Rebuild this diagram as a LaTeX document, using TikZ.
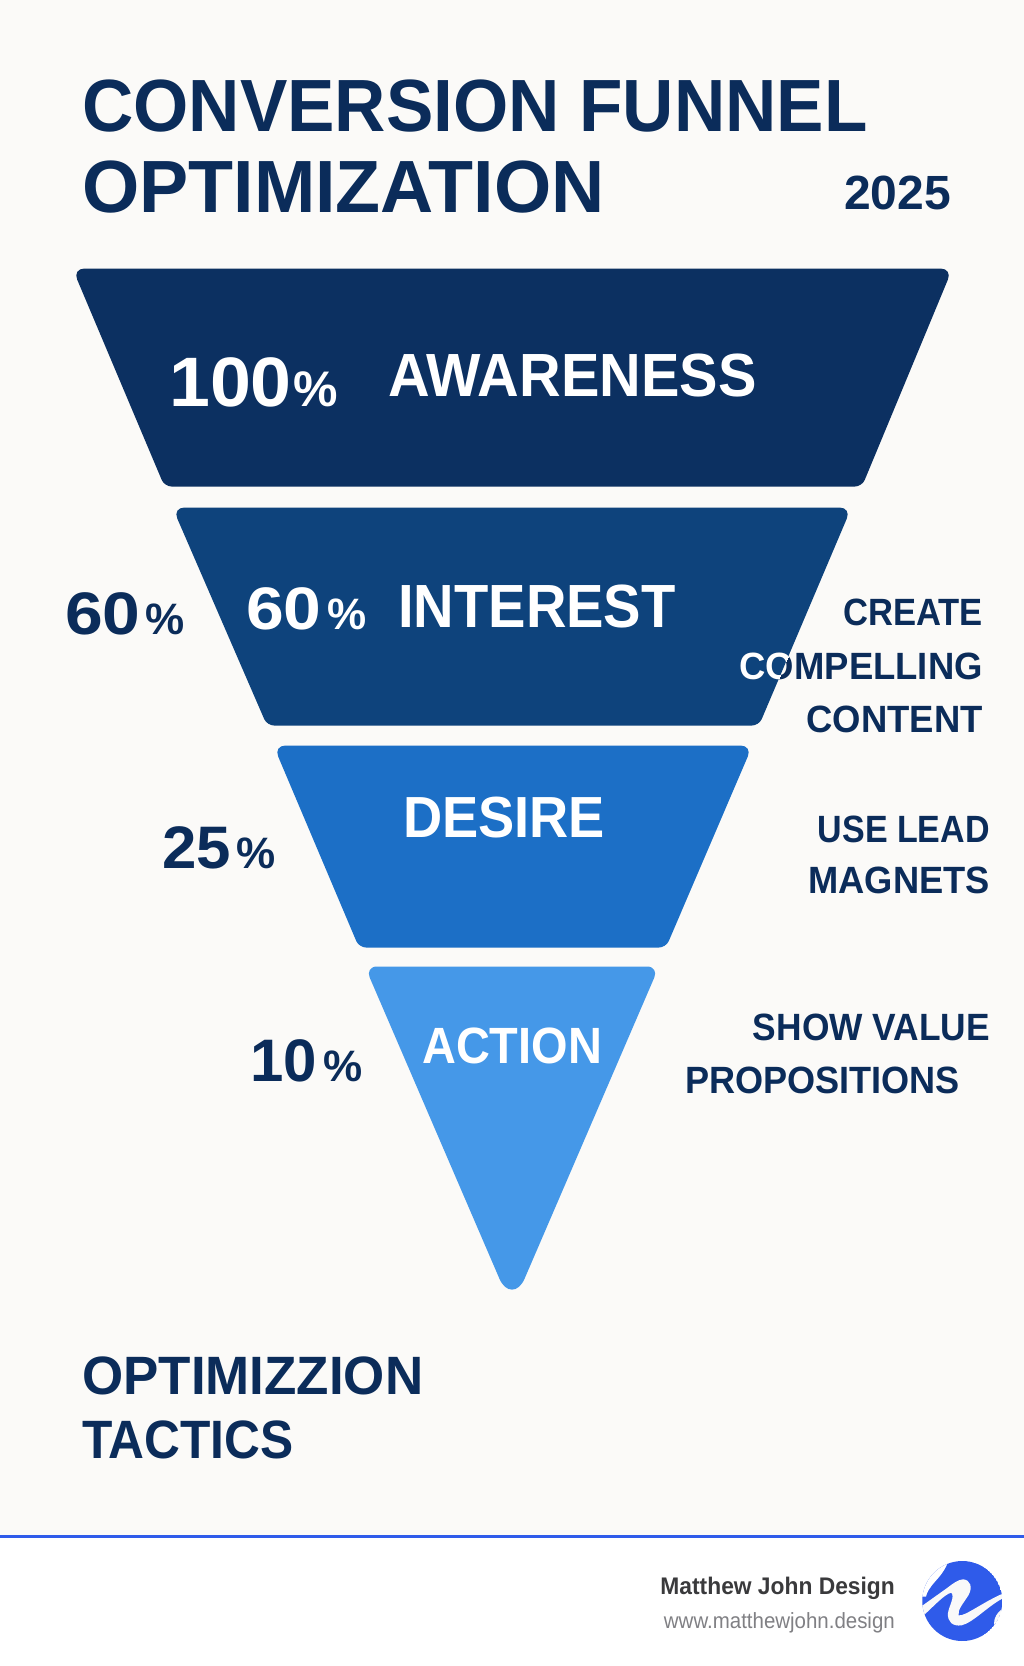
\documentclass[tikz,border=0pt]{standalone}
\usepackage{fontspec}
\setmainfont{Liberation Sans}
\definecolor{navy}{HTML}{0B2C5A}
\definecolor{bgc}{HTML}{FBFAF8}
\definecolor{fa}{HTML}{0C3061}
\definecolor{fi}{HTML}{0E437C}
\definecolor{fd}{HTML}{1C6FC6}
\definecolor{fc}{HTML}{4598E8}
\definecolor{rulec}{HTML}{2F5BEA}
\definecolor{darkgr}{HTML}{3A3A3C}
\definecolor{midgr}{HTML}{808084}
\definecolor{logow}{HTML}{F9F9F9}
\newcommand{\fs}[1]{\fontsize{#1}{#1}\selectfont}
\tikzset{
  x=1pt,y=-1pt,
  txt/.style={inner sep=0pt,font=\bfseries,text=navy},
  wtxt/.style={inner sep=0pt,font=\bfseries,text=white},
}
% top corners wider radius, bottom corners tighter
\newcommand{\pathA}{(512,268.5) [rounded corners=12pt] -- (952.5,268.5) [rounded corners=7pt] -- (862,486.5) -- (164.5,486.5) [rounded corners=12pt] -- (72.5,268.5) -- cycle}
\newcommand{\pathI}{(512,507.5) [rounded corners=12pt] -- (851.5,507.5) [rounded corners=7pt] -- (759,725.5) -- (267,725.5) [rounded corners=12pt] -- (172.5,507.5) -- cycle}
\begin{document}
\begin{tikzpicture}
\useasboundingbox (0,0) rectangle (1024,1666);
\fill[bgc] (0,0) rectangle (1024,1536);
\fill[white] (0,1536) rectangle (1024,1666);
\fill[rulec] (0,1535) rectangle (1024,1538);
% funnel
\fill[fa] \pathA;
\fill[fi] \pathI;
\fill[fd] (512,745.5) [rounded corners=12pt] -- (752.5,745.5) [rounded corners=7pt] -- (666,947.5) -- (359,947.5) [rounded corners=12pt] -- (273.5,745.5) -- cycle;
\fill[fc] (377,966.5) -- (647,966.5) .. controls (654,966.5) and (656.7,972) .. (654.3,977.5)
  -- (524.6,1278.6) .. controls (518.3,1293.3) and (505.7,1293.3) .. (499.4,1278.6)
  -- (369.7,977.5) .. controls (367.3,972) and (370,966.5) .. (377,966.5) -- cycle;
% title
\node[txt,anchor=base west,xscale=.96] (t1) at (82,131) {\fs{74}CONVERSION FUNNEL};
\node[txt,anchor=base west,xscale=.995] (t2) at (82,212) {\fs{74}OPTIMIZATION};
\node[txt,anchor=base east] (yr) at (951,209) {\fs{48}2025};
% band labels
\node[wtxt,anchor=base west,xscale=1.05] (p1) at (169,406) {\fs{70}100};
\node[wtxt,anchor=base west] (p1b) at (293,406) {\fs{50}\%};
\node[wtxt,anchor=base west,xscale=.945] (aw) at (388,396) {\fs{61}AWARENESS};
\node[wtxt,anchor=base west,xscale=1.13] (p2) at (246,629) {\fs{60}60};
\node[wtxt,anchor=base west] (p2b) at (327,629) {\fs{44}\%};
\node[wtxt,anchor=base west,xscale=.92] (in) at (398,627) {\fs{61}INTEREST};
\node[wtxt,anchor=base west,xscale=.935] (de) at (403,837) {\fs{58}DESIRE};
\node[wtxt,anchor=base west,xscale=.92] (ac) at (422,1063) {\fs{51}ACTION};
% left percents
\node[txt,anchor=base west,xscale=1.13] (l1) at (65,634) {\fs{60}60};
\node[txt,anchor=base west] (l1b) at (145,634) {\fs{44}\%};
\node[txt,anchor=base west,xscale=1.03] (l2) at (162,868) {\fs{60}25};
\node[txt,anchor=base west] (l2b) at (236,868) {\fs{44}\%};
\node[txt,anchor=base west] (l3) at (250,1081) {\fs{60}10};
\node[txt,anchor=base west] (l3b) at (323,1081) {\fs{44}\%};
% right tactics
\node[txt,anchor=base east,xscale=.91] (r1) at (983,625) {\fs{38}CREATE};
\node[txt,anchor=base east,xscale=.96] (r2) at (983,679) {\fs{38}COMPELLING};
\begin{scope}
\clip \pathI;
\node[wtxt,anchor=base east,xscale=.96] (r2w) at (983,679) {\fs{38}COMPELLING};
\end{scope}
\node[txt,anchor=base east,xscale=.96] (r3) at (983,732) {\fs{38}CONTENT};
\node[txt,anchor=base east,xscale=.895] (r4) at (990,842) {\fs{38}USE LEAD};
\node[txt,anchor=base east,xscale=.955] (r5) at (990,893) {\fs{38}MAGNETS};
\node[txt,anchor=base east,xscale=.93] (r6) at (990,1040) {\fs{38}SHOW VALUE};
\node[txt,anchor=base west,xscale=.95] (r7) at (685,1093) {\fs{38}PROPOSITIONS};
% bottom
\node[txt,anchor=base west,xscale=.98] (b1) at (82,1394) {\fs{54}OPTIMIZZION};
\node[txt,anchor=base west,xscale=.92] (b2) at (82,1458) {\fs{54}TACTICS};
% footer
\node[inner sep=0pt,anchor=base east,font=\bfseries,text=darkgr,xscale=.95] (f1) at (895,1594) {\fs{24}Matthew John Design};
\node[inner sep=0pt,anchor=base east,text=midgr,xscale=.93] (f2) at (895,1628) {\fs{22}www.matthewjohn.design};
% logo
\begin{scope}
\clip (962.3,1601) circle (40);
\fill[rulec] (962.3,1601) circle (40);
\begin{scope}[shift={(600,1500)},x=.3333pt,y=-.3333pt]
\fill[logow] (960,322) -- (1040,265) .. controls (1060,250) and (1075,238) .. (1090,238)
  .. controls (1112,240) and (1118,262) .. (1106,285)
  .. controls (1090,310) and (1072,330) .. (1076,346)
  .. controls (1095,350) and (1150,305) .. (1215,278)
  -- (1215,292) .. controls (1170,312) and (1120,368) .. (1085,376)
  .. controls (1058,380) and (1042,365) .. (1044,340)
  .. controls (1046,320) and (1066,290) .. (1054,278)
  .. controls (1034,282) and (1000,320) .. (972,345) -- cycle;
\fill[logow] (1215,322) .. controls (1195,332) and (1177,355) .. (1184,380)
  -- (1195,412) -- (1225,412) -- cycle;
\fill[white] (1048,175) .. controls (1040,200) and (1030,218) .. (1005,245)
  .. controls (990,262) and (980,278) .. (978,290) -- (955,290) -- (955,175) -- cycle;
\end{scope}
\end{scope}
\end{tikzpicture}
\end{document}
